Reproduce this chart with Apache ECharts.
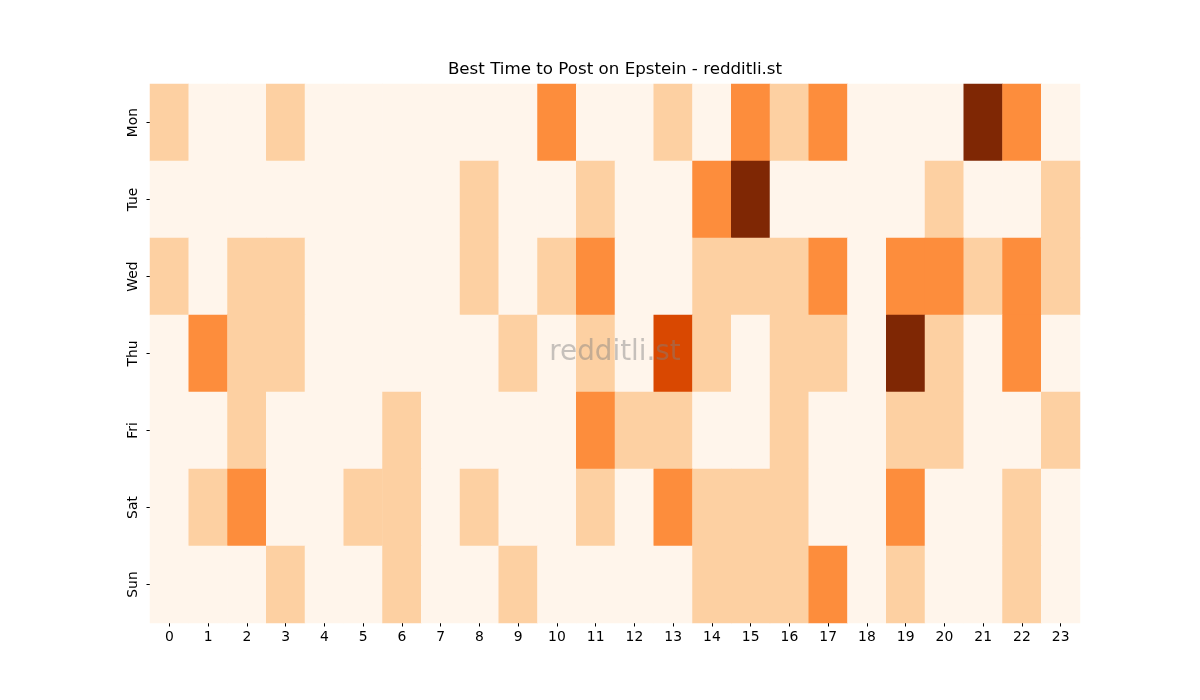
<!DOCTYPE html>
<html>
<head>
<meta charset="utf-8">
<style>
  html, body { margin: 0; padding: 0; background: #fff; }
  #main { width: 1200px; height: 700px; }
</style>
</head>
<body>
<div id="main"></div>
<script src="https://cdn.jsdelivr.net/npm/echarts@6/dist/echarts.min.js"></script>
<script>
// hours of the day and weekdays
var hours = ['0','1','2','3','4','5','6','7','8','9','10','11','12','13','14','15','16','17','18','19','20','21','22','23'];
var days = ['Mon','Tue','Wed','Thu','Fri','Sat','Sun'];

// post counts per hour, one row per day
var mon = [1,0,0,1,0,0,0,0,0,0,2,0,0,1,0,2,1,2,0,0,0,4,2,0];
var tue = [0,0,0,0,0,0,0,0,1,0,0,1,0,0,2,4,0,0,0,0,1,0,0,1];
var wed = [1,0,1,1,0,0,0,0,1,0,1,2,0,0,1,1,1,2,0,2,2,1,2,1];
var thu = [0,2,1,1,0,0,0,0,0,1,0,1,0,3,1,0,1,1,0,4,1,0,2,0];
var fri = [0,0,1,0,0,0,1,0,0,0,0,2,1,1,0,0,1,0,0,1,1,0,0,1];
var sat = [0,1,2,0,0,1,1,0,1,0,0,1,0,2,1,1,1,0,0,2,0,0,1,0];
var sun = [0,0,0,1,0,0,1,0,0,1,0,0,0,0,1,1,1,2,0,1,0,0,1,0];

var rows = [mon, tue, wed, thu, fri, sat, sun];
var cells = [];
rows.forEach(function (row, d) {
    row.forEach(function (v, h) {
        cells.push([h, d, v]);
    });
});

var chart = echarts.init(document.getElementById('main'));

var option = {
    backgroundColor: '#ffffff',
    animation: false,
    grid: {
        left: 150,
        top: 84,
        width: 930,
        height: 539
    },
    xAxis: {
        type: 'category',
        data: hours,
        axisLine: { show: false },
        axisTick: { show: true, alignWithLabel: true, length: 3.5, lineStyle: { color: '#000' } },
        axisLabel: { fontFamily: 'DejaVu Sans', fontSize: 13.9, color: '#000', margin: 7 },
        splitLine: { show: false }
    },
    yAxis: {
        type: 'category',
        data: days,
        inverse: true,
        axisLine: { show: false },
        axisTick: { show: true, alignWithLabel: true, length: 3.5, lineStyle: { color: '#000' } },
        axisLabel: { fontFamily: 'DejaVu Sans', fontSize: 13.9, color: '#000', rotate: 90, margin: 10 },
        splitLine: { show: false }
    },
    visualMap: {
        show: false,
        min: 0,
        max: 4,
        calculable: false,
        inRange: {
            color: ['#fff5eb','#fee6ce','#fdd0a2','#fdae6b','#fd8d3c','#f16913','#d94801','#a63603','#7f2704']
        }
    },
    graphic: [{
        type: 'text',
        x: 615,
        y: 70,
        style: {
            text: 'Best Time to Post on Epstein - redditli.st',
            align: 'center',
            verticalAlign: 'middle',
            fontFamily: 'DejaVu Sans',
            fontSize: 16.7,
            fill: '#000'
        }
    }, {
        type: 'text',
        x: 615,
        y: 353,
        z: 100,
        style: {
            text: 'redditli.st',
            align: 'center',
            verticalAlign: 'middle',
            fontFamily: 'DejaVu Sans',
            fontSize: 27.8,
            fill: 'rgba(128,128,128,0.45)'
        }
    }],
    series: [{
        type: 'heatmap',
        data: cells,
        label: { show: false },
        itemStyle: { borderWidth: 0 },
        emphasis: { disabled: true }
    }]
};

chart.setOption(option);
</script>
</body>
</html>
